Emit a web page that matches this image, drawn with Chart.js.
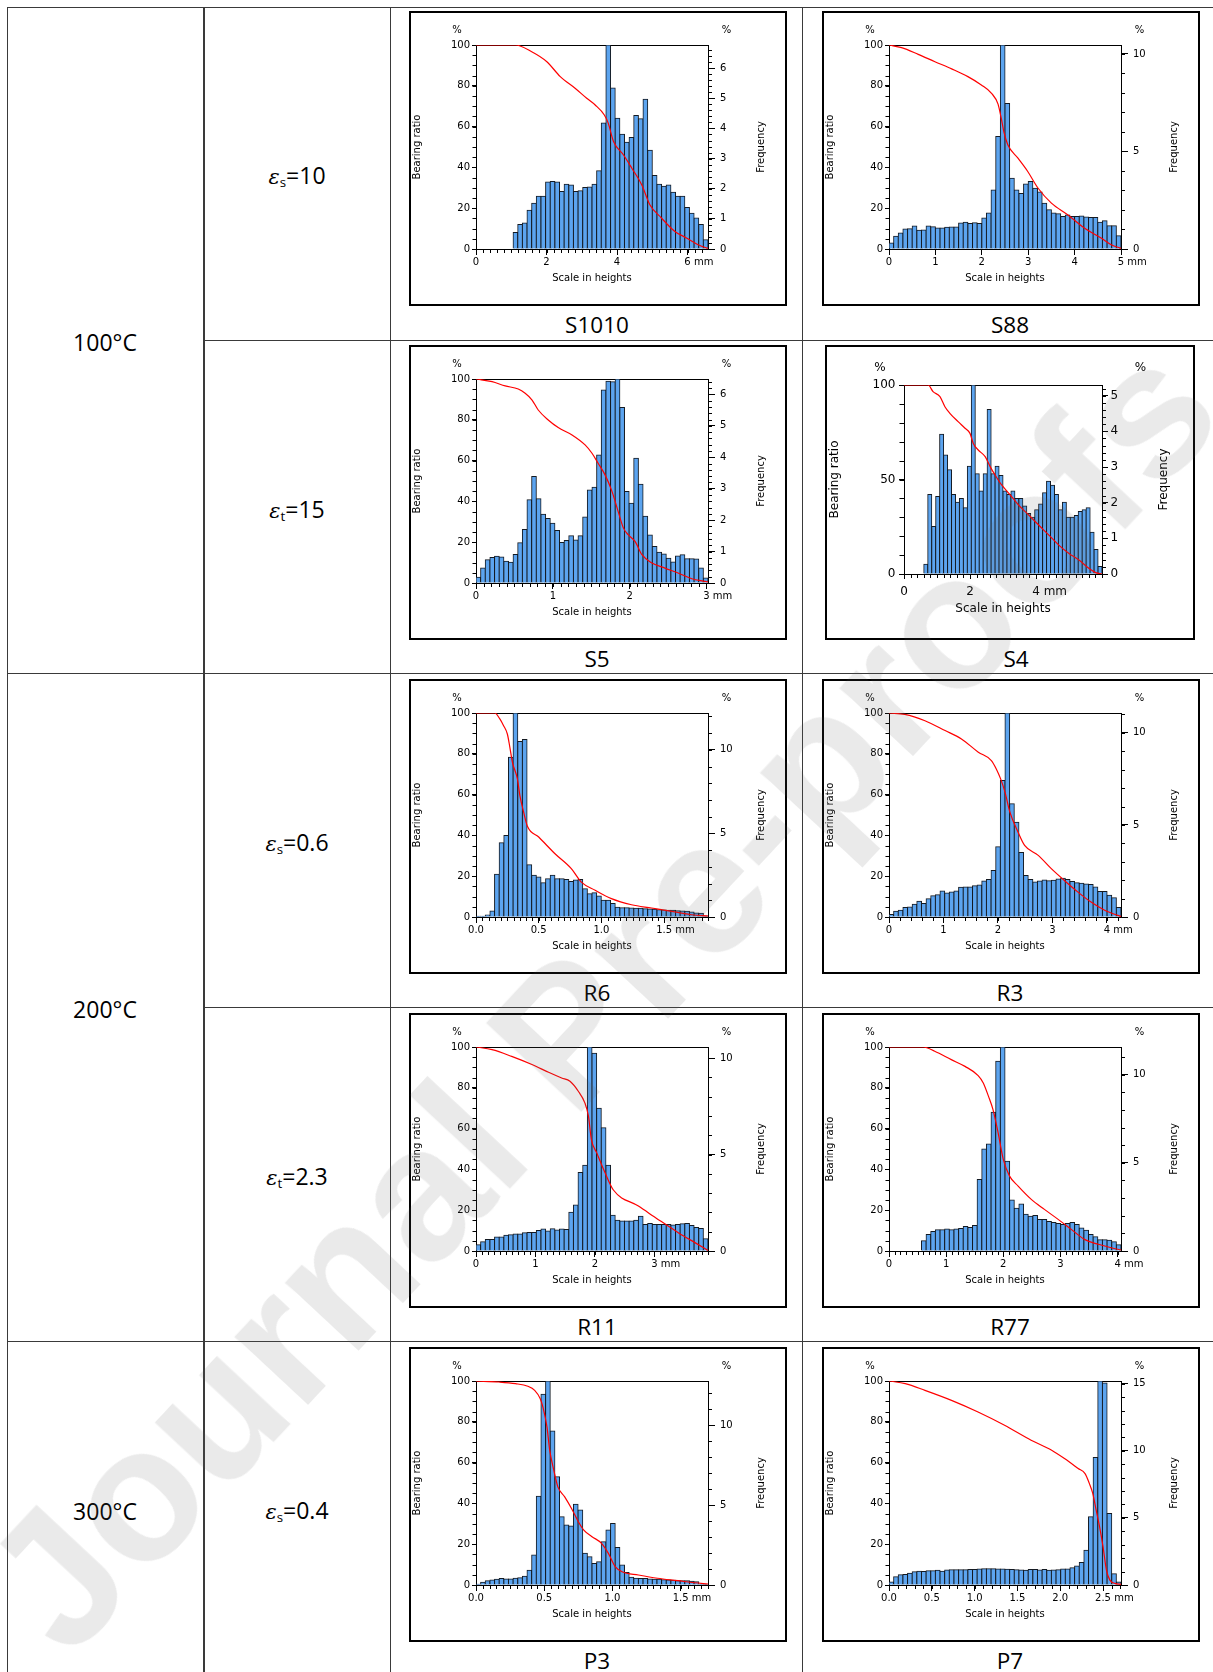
<!DOCTYPE html>
<html>
<head>
<meta charset="utf-8">
<title>Height distribution and bearing ratio</title>
<script src="https://cdn.jsdelivr.net/npm/chart.js@4.4.1/dist/chart.umd.min.js"></script>
<style>
  html, body { margin: 0; padding: 0; background: #fff; }
  body { position: relative; width: 1213px; height: 1672px; overflow: hidden;
         font-family: 'Open Sans', 'Noto Sans', sans-serif; color: #000; }
  .rule { position: absolute; background: #3a3a3a; }
  .cell { position: absolute; transform: translate(-50%, -50%); font-size: 23px;
          white-space: nowrap; line-height: 1; }
  .cell .eps { font-family: 'DejaVu Serif', serif; font-style: italic; font-size: 21px; }
  .cell sub { font-size: 58%; vertical-align: -0.25em; line-height: 0; }
  .panel { position: absolute; box-sizing: border-box; border: 2px solid #000; background: #fff; }
  .panel canvas { position: absolute; left: 0; top: 0; }
  .watermark { position: absolute; left: 600px; top: 995px; z-index: 5;
               transform: translate(-50%, -50%) rotate(-47deg);
               font: bold 190px 'Liberation Sans', Arial, sans-serif; line-height: 1;
               color: rgba(90, 90, 90, 0.13); white-space: nowrap; pointer-events: none; }
</style>
</head>
<body>
<div class="watermark">Journal Pre-proofs</div>
<script>
// ---- data: frequency (%) of the 50 height classes + bearing ratio curve (mm, %) ----
const s1010Freq = [0, 0, 0, 0, 0, 0, 0, 0, 0.55, 0.81, 0.86, 1.29, 1.52, 1.75, 1.75, 2.22, 2.24, 2.22,
  1.91, 2.15, 2.12, 1.91, 1.93, 2.04, 2.06, 2.15, 2.60, 4.18, 6.77, 5.34, 4.34, 3.81, 3.54, 3.70, 4.43, 4.32,
  4.97, 3.28, 2.44, 2.15, 2.08, 2.12, 1.88, 1.75, 1.75, 1.38, 1.19, 1.03, 0.81, 0.31];
const s1010CurveX = [0, 1.11, 1.58, 2.01, 2.39, 2.81, 3.14, 3.38, 3.64, 3.75, 3.90, 4.18, 4.42, 4.70, 4.93,
  5.26, 5.64, 5.97, 6.30, 6.54, 6.58];
const s1010CurveY = [100, 100, 96.7, 91.8, 84.5, 78.8, 73.9, 70.6, 65.7, 61.7, 52.7, 46.2, 39.6, 31.5, 21.7,
  15.2, 8.6, 5.4, 2.1, 0.5, 0.3];
const s1010XTicks = [0, 2, 4, 6];
const s1010FreqTicks = [0, 1, 2, 3, 4, 5, 6];

const s88Freq = [0.31, 0.65, 0.82, 1.02, 1.04, 1.18, 0.96, 0.97, 1.18, 1.14, 1.08, 1.08, 1.11, 1.13, 1.13,
  1.33, 1.37, 1.31, 1.35, 1.31, 1.59, 1.84, 3.02, 5.77, 10.46, 7.46, 3.63, 3.02, 2.85, 3.33, 3.46, 3.12, 2.92,
  2.35, 2.01, 1.84, 1.81, 1.67, 1.74, 1.67, 1.67, 1.69, 1.64, 1.62, 1.62, 1.37, 1.45, 1.19, 1.19, 0.68];
const s88CurveX = [0, 0.27, 0.63, 0.99, 1.35, 1.70, 1.99, 2.21, 2.35, 2.42, 2.48, 2.56, 2.78, 2.99, 3.21,
  3.50, 3.85, 4.21, 4.57, 4.79, 5.0];
const s88CurveY = [100, 98.7, 95.4, 91.8, 88.3, 84.5, 80.4, 76.3, 71.0, 64.0, 57.0, 51.1, 44.5, 38.0, 29.9,
  22.5, 16.8, 10.3, 5.4, 2.1, 0.3];
const s88XTicks = [0, 1, 2, 3, 4, 5];
const s88FreqTicks = [0, 5, 10];

const s5Freq = [0.18, 0.48, 0.74, 0.81, 0.85, 0.83, 0.69, 0.66, 0.91, 1.28, 1.70, 2.65, 3.39, 2.68, 2.19,
  2.05, 1.90, 1.67, 1.29, 1.35, 1.50, 1.37, 1.50, 2.10, 2.96, 3.05, 4.07, 6.14, 6.42, 6.40, 6.49, 5.58, 2.91,
  2.54, 3.97, 3.14, 2.12, 1.53, 1.16, 0.98, 0.92, 0.79, 0.67, 0.86, 0.90, 0.77, 0.77, 0.76, 0.48, 0.16];
const s5CurveX = [0, 0.21, 0.38, 0.55, 0.64, 0.73, 0.81, 0.94, 1.07, 1.25, 1.42, 1.51, 1.59, 1.68, 1.77,
  1.85, 1.92, 1.98, 2.07, 2.16, 2.29, 2.46, 2.63, 2.81, 2.98, 3.02];
const s5CurveY = [100, 98.7, 96.6, 95.1, 93.0, 89.7, 84.8, 79.9, 76.2, 72.6, 67.7, 63.6, 58.7, 53.0, 44.9,
  35.1, 26.9, 23.7, 20.4, 13.9, 9.8, 7.3, 4.9, 2.1, 0.8, 0.5];
const s5XTicks = [0, 1, 2, 3];
const s5FreqTicks = [0, 1, 2, 3, 4, 5, 6];

const s4Freq = [0, 0, 0, 0, 0, 0.27, 2.23, 1.33, 2.17, 3.92, 3.34, 2.92, 2.23, 2.01, 2.12, 1.86, 3.02, 5.30,
  2.81, 2.33, 2.81, 4.61, 2.81, 3.02, 2.76, 2.33, 2.23, 2.33, 2.12, 2.12, 1.91, 1.70, 1.59, 1.80, 1.96, 2.28,
  2.60, 2.49, 2.23, 1.80, 2.01, 1.59, 1.59, 1.64, 1.75, 1.80, 1.86, 1.17, 0.69, 0.21];
const s4CurveX = [0, 0.73, 0.88, 1.09, 1.24, 1.39, 1.64, 1.85, 2.0, 2.10, 2.25, 2.46, 2.61, 2.76, 2.96,
  3.22, 3.47, 3.78, 4.08, 4.39, 4.69, 5.0, 5.30, 5.60, 5.81, 6.0];
const s4CurveY = [100, 100, 96.5, 93.8, 88.5, 85.0, 80.6, 77.1, 74.4, 69.1, 65.6, 62.1, 56.8, 52.4, 47.1,
  41.8, 36.5, 31.2, 25.9, 20.6, 15.3, 10.9, 7.4, 3.0, 0.7, 0];
const s4XTicks = [0, 2, 4];
const s4FreqTicks = [0, 1, 2, 3, 4, 5];

const r6Freq = [0.04, 0.04, 0.12, 0.36, 2.55, 4.44, 4.88, 9.56, 12.2, 10.50, 10.62, 3.13, 2.49, 2.39, 2.05,
  2.29, 2.49, 2.29, 2.29, 2.25, 2.13, 2.21, 2.25, 1.69, 1.39, 1.45, 1.25, 1.00, 1.00, 0.80, 0.58, 0.56, 0.56,
  0.54, 0.52, 0.52, 0.50, 0.48, 0.46, 0.44, 0.42, 0.40, 0.40, 0.38, 0.36, 0.34, 0.30, 0.24, 0.22, 0.06];
const r6CurveX = [0, 0.15, 0.19, 0.22, 0.25, 0.27, 0.29, 0.33, 0.35, 0.38, 0.41, 0.50, 0.63, 0.76, 0.84,
  0.95, 1.08, 1.24, 1.40, 1.56, 1.72, 1.85];
const r6CurveY = [100, 100, 97.1, 93.8, 89.7, 83.2, 75.9, 67.7, 59.5, 51.4, 44.5, 39.2, 31.0, 23.7, 17.1,
  13.1, 9.0, 6.0, 4.4, 2.8, 1.1, 0.5];
const r6XTicks = [0, 0.5, 1.0, 1.5];
const r6FreqTicks = [0, 5, 10];

const r3Freq = [0.14, 0.31, 0.36, 0.52, 0.54, 0.69, 0.85, 0.74, 0.99, 1.16, 1.21, 1.41, 1.30, 1.36, 1.41,
  1.61, 1.63, 1.63, 1.70, 1.74, 1.95, 2.03, 2.53, 3.82, 7.41, 11.08, 6.15, 5.14, 3.51, 2.26, 2.04, 1.90, 1.95,
  2.01, 1.97, 1.99, 2.06, 2.10, 2.04, 1.93, 1.86, 1.83, 1.79, 1.77, 1.63, 1.39, 1.39, 1.18, 1.05, 0.51];
const r3CurveX = [0, 0.29, 0.66, 1.03, 1.33, 1.64, 1.88, 1.97, 2.05, 2.13, 2.22, 2.37, 2.49, 2.74, 2.98,
  3.22, 3.47, 3.71, 3.96, 4.20, 4.26];
const r3CurveY = [100, 99.3, 96.2, 91.4, 87.3, 80.8, 76.7, 72.6, 67.7, 61.2, 51.4, 41.6, 35.1, 30.2, 23.7,
  17.9, 12.2, 7.3, 3.3, 0.8, 0.3];
const r3XTicks = [0, 1, 2, 3, 4];
const r3FreqTicks = [0, 5, 10];

const r11Freq = [0.32, 0.48, 0.60, 0.60, 0.72, 0.72, 0.81, 0.84, 0.88, 0.88, 0.95, 0.96, 0.96, 1.06, 1.14,
  1.04, 1.15, 1.09, 1.14, 1.11, 2.01, 2.38, 4.07, 4.44, 10.57, 10.25, 7.40, 6.39, 4.44, 1.85, 1.59, 1.55, 1.55,
  1.55, 1.59, 1.80, 1.37, 1.42, 1.37, 1.37, 1.37, 1.37, 1.35, 1.37, 1.41, 1.43, 1.32, 1.22, 1.16, 0.63];
const r11CurveX = [0, 0.27, 0.60, 0.94, 1.22, 1.44, 1.58, 1.72, 1.83, 1.89, 1.94, 2.03, 2.17, 2.31, 2.73,
  3.06, 3.40, 3.68, 3.90];
const r11CurveY = [100, 98.7, 95.4, 91.4, 87.6, 84.8, 83.2, 78.3, 72.6, 66.1, 54.6, 48.1, 38.3, 29.9, 22.0,
  15.5, 9.0, 4.1, 0.3];
const r11XTicks = [0, 1, 2, 3];
const r11FreqTicks = [0, 5, 10];

const r77Freq = [0, 0, 0, 0, 0, 0, 0, 0.58, 0.93, 1.10, 1.21, 1.21, 1.25, 1.21, 1.25, 1.27, 1.39, 1.33, 1.45,
  4.05, 5.79, 6.07, 7.87, 10.76, 11.57, 5.09, 2.89, 2.43, 2.66, 2.08, 1.97, 2.02, 1.79, 1.79, 1.68, 1.62, 1.56,
  1.50, 1.56, 1.62, 1.50, 1.31, 1.18, 0.93, 0.81, 0.64, 0.64, 0.61, 0.52, 0.35];
const r77CurveX = [0, 0.60, 0.80, 1.09, 1.33, 1.56, 1.65, 1.74, 1.82, 1.91, 2.0, 2.11, 2.26, 2.49, 2.72,
  2.96, 3.19, 3.42, 3.66, 3.89, 4.06];
const r77CurveY = [100, 100, 97.9, 93.8, 90.5, 86.0, 82.4, 75.9, 69.3, 57.9, 44.9, 36.7, 31.8, 25.3, 20.4,
  15.5, 10.6, 5.7, 3.3, 1.6, 0.5];
const r77XTicks = [0, 1, 2, 3, 4];
const r77FreqTicks = [0, 5, 10];

const p3Freq = [0.05, 0.17, 0.26, 0.31, 0.36, 0.40, 0.37, 0.37, 0.43, 0.46, 0.54, 0.93, 1.88, 5.56, 11.94,
  12.77, 9.64, 6.77, 4.27, 3.75, 3.70, 5.06, 4.69, 1.98, 1.77, 1.35, 1.46, 2.71, 3.44, 3.85, 2.35, 1.25, 0.79,
  0.48, 0.43, 0.40, 0.40, 0.37, 0.36, 0.36, 0.33, 0.31, 0.29, 0.27, 0.26, 0.27, 0.23, 0.21, 0.05, 0.02];
const p3CurveX = [0, 0.17, 0.29, 0.38, 0.43, 0.47, 0.49, 0.52, 0.54, 0.57, 0.60, 0.65, 0.70, 0.75, 0.79,
  0.85, 0.92, 0.97, 1.02, 1.07, 1.19, 1.33, 1.48, 1.60, 1.70];
const p3CurveY = [100, 99.5, 98.7, 97.4, 95.4, 91.4, 87.3, 77.5, 66.1, 56.3, 48.1, 43.2, 37.5, 31.0, 26.9,
  23.7, 20.4, 15.5, 9.0, 6.5, 4.9, 3.3, 2.1, 1.1, 0.5];
const p3XTicks = [0, 0.5, 1.0, 1.5];
const p3FreqTicks = [0, 5, 10];

const p7Freq = [0.23, 0.62, 0.76, 0.79, 0.88, 0.99, 1.03, 1.00, 1.06, 1.06, 1.09, 1.03, 1.11, 1.14, 1.14,
  1.14, 1.14, 1.16, 1.16, 1.19, 1.22, 1.22, 1.22, 1.20, 1.20, 1.17, 1.16, 1.14, 1.12, 1.09, 1.16, 1.16, 1.12,
  1.16, 1.09, 1.11, 1.14, 1.20, 1.19, 1.29, 1.41, 1.67, 2.58, 5.08, 9.50, 15.2, 15.05, 5.32, 0.84, 0.23];
const p7CurveX = [0, 0.19, 0.42, 0.73, 1.04, 1.35, 1.66, 1.90, 2.05, 2.21, 2.29, 2.34, 2.38, 2.42, 2.46,
  2.50, 2.54, 2.58, 2.64, 2.71];
const p7CurveY = [100, 98.7, 95.4, 90.5, 84.8, 78.3, 71.0, 66.1, 62.0, 57.1, 54.6, 49.8, 44.9, 36.7, 28.5,
  18.8, 7.3, 2.4, 0.8, 0.3];
const p7XTicks = [0, 0.5, 1.0, 1.5, 2.0, 2.5];
const p7FreqTicks = [0, 5, 10, 15];

const ratioTicks = [0, 20, 40, 60, 80, 100];
const ratioTicksCoarse = [0, 50, 100];

// ---- table text ----
const tempLabels = ['100°C', '200°C', '300°C'];
const strainLabels = [['s', '10'], ['t', '15'], ['s', '0.6'], ['t', '2.3'], ['s', '0.4']];

// ---- panel list ----
const panels = [
  { name: 'S1010', col: 0, row: 0, xMax: 6.58, freqMax: 6.77, freq: s1010Freq, cx: s1010CurveX, cy: s1010CurveY,
    xTicks: s1010XTicks, xMinor: 0.2, xDec: 0, freqTicks: s1010FreqTicks, freqMinor: 0.2, rTicks: ratioTicks, rMinor: 5 },
  { name: 'S88', col: 1, row: 0, xMax: 5.0, freqMax: 10.46, freq: s88Freq, cx: s88CurveX, cy: s88CurveY,
    xTicks: s88XTicks, xMinor: 0, xDec: 0, freqTicks: s88FreqTicks, freqMinor: 1, rTicks: ratioTicks, rMinor: 5 },
  { name: 'S5', col: 0, row: 1, xMax: 3.02, freqMax: 6.49, freq: s5Freq, cx: s5CurveX, cy: s5CurveY,
    xTicks: s5XTicks, xMinor: 0.1, xDec: 0, freqTicks: s5FreqTicks, freqMinor: 0.2, rTicks: ratioTicks, rMinor: 5 },
  { name: 'S4', col: 1, row: 1, xMax: 6.0, freqMax: 5.30, freq: s4Freq, cx: s4CurveX, cy: s4CurveY, big: true,
    xTicks: s4XTicks, xMinor: 0.2, xDec: 0, freqTicks: s4FreqTicks, freqMinor: 0.2, rTicks: ratioTicksCoarse, rMinor: 10 },
  { name: 'R6', col: 0, row: 2, xMax: 1.85, freqMax: 12.2, freq: r6Freq, cx: r6CurveX, cy: r6CurveY,
    xTicks: r6XTicks, xMinor: 0.05, xDec: 1, freqTicks: r6FreqTicks, freqMinor: 1, rTicks: ratioTicks, rMinor: 5 },
  { name: 'R3', col: 1, row: 2, xMax: 4.26, freqMax: 11.08, freq: r3Freq, cx: r3CurveX, cy: r3CurveY,
    xTicks: r3XTicks, xMinor: 0.2, xDec: 0, freqTicks: r3FreqTicks, freqMinor: 1, rTicks: ratioTicks, rMinor: 5 },
  { name: 'R11', col: 0, row: 3, xMax: 3.9, freqMax: 10.57, freq: r11Freq, cx: r11CurveX, cy: r11CurveY,
    xTicks: r11XTicks, xMinor: 0.1, xDec: 0, freqTicks: r11FreqTicks, freqMinor: 1, rTicks: ratioTicks, rMinor: 5 },
  { name: 'R77', col: 1, row: 3, xMax: 4.06, freqMax: 11.57, freq: r77Freq, cx: r77CurveX, cy: r77CurveY,
    xTicks: r77XTicks, xMinor: 0.1, xDec: 0, freqTicks: r77FreqTicks, freqMinor: 1, rTicks: ratioTicks, rMinor: 5 },
  { name: 'P3', col: 0, row: 4, xMax: 1.70, freqMax: 12.77, freq: p3Freq, cx: p3CurveX, cy: p3CurveY,
    xTicks: p3XTicks, xMinor: 0.05, xDec: 1, freqTicks: p3FreqTicks, freqMinor: 1, rTicks: ratioTicks, rMinor: 5 },
  { name: 'P7', col: 1, row: 4, xMax: 2.71, freqMax: 15.2, freq: p7Freq, cx: p7CurveX, cy: p7CurveY,
    xTicks: p7XTicks, xMinor: 0.1, xDec: 1, freqTicks: p7FreqTicks, freqMinor: 1, rTicks: ratioTicks, rMinor: 5 }
];

// ---- look ----
const BAR_FILL = '#5ca4ef';
const BAR_EDGE = '#141a22';
const CURVE_RED = '#ff0000';
const FONT = "'DejaVu Sans', Verdana, sans-serif";

const STD = { font: 10, m: { l: 65, t: 32, r: 77, b: 55 },
  rTick: 4, rPad: 2, fTick: 7, fPad: 5, xTick: 6, xPad: 1.5, minor: 3.5, rMinorLen: 4,
  pctDy: -12, pctLx: -19, pctRx: 18.5, rTitleDx: -56, fTitleDx: 56, xTitleDy: 31.5 };
const BIG = { font: 12, m: { l: 77, t: 38, r: 91, b: 64 },
  rTick: 5, rPad: 3.5, fTick: 6, fPad: 2.5, xTick: 5, xPad: 6, minor: 3.5, rMinorLen: 5,
  pctDy: -14.4, pctLx: -24, pctRx: 38.4, rTitleDx: -65.6, fTitleDx: 65.4, xTitleDy: 38 };

const COL_X = [409, 822];
const ROW_Y = [11, 345, 679, 1013, 1347];
const BOX_W = 378, BOX_H = 295;
const BINS = 50;

Chart.defaults.font.family = FONT;
Chart.defaults.color = '#000';

// ---- table rules ----
function rule(x, y, w, h) {
  const d = document.createElement('div');
  d.className = 'rule';
  Object.assign(d.style, { left: x + 'px', top: y + 'px', width: w + 'px', height: h + 'px' });
  document.body.appendChild(d);
}
rule(7, 7, 1206, 1);
rule(203, 340, 1010, 1);
rule(7, 673, 1206, 1);
rule(203, 1007, 1010, 1);
rule(7, 1341, 1206, 1);
[7, 203, 390, 802].forEach(x => rule(x, 7, x === 203 ? 1.5 : 1, 1700));

function cell(html, x, y, cls) {
  const d = document.createElement('div');
  d.className = 'cell' + (cls ? ' ' + cls : '');
  d.innerHTML = html;
  Object.assign(d.style, { left: x + 'px', top: y + 'px' });
  document.body.appendChild(d);
}
cell(tempLabels[0], 105, 342);
cell(tempLabels[1], 105, 1009);
cell(tempLabels[2], 105, 1511);
[176, 510, 843, 1177, 1511].forEach((y, i) => {
  const [sub, val] = strainLabels[i];
  cell(`<span class="eps">ε</span><sub>${sub}</sub>=${val}`, 297, y);
});

// ---- one histogram + bearing curve panel ----
function drawPanel(p) {
  const st = p.big ? BIG : STD;
  const bx = p.big ? 825 : COL_X[p.col];
  const by = ROW_Y[p.row];
  const bw = p.big ? 370 : BOX_W;
  const W = bw - 4, H = BOX_H - 4;

  const box = document.createElement('div');
  box.className = 'panel';
  Object.assign(box.style, { left: bx + 'px', top: by + 'px', width: bw + 'px', height: BOX_H + 'px' });
  const cv = document.createElement('canvas');
  cv.width = W; cv.height = H;
  cv.style.width = W + 'px'; cv.style.height = H + 'px';
  box.appendChild(cv);
  document.body.appendChild(box);

  const cap = document.createElement('div');
  cap.className = 'cell';
  cap.textContent = p.name;
  Object.assign(cap.style, { left: (p.big ? 1016 : bx + bw / 2 - 1) + 'px', top: (by + 314) + 'px', fontSize: '22.5px' });
  document.body.appendChild(cap);

  const binW = p.xMax / BINS;
  const bars = p.freq.map((f, i) => ({ x: (i + 0.5) * binW, y: f }));
  const curve = p.cx.map((x, i) => ({ x, y: p.cy[i] }));
  const fmtX = v => v.toFixed(p.xDec);
  const font = { family: FONT, size: st.font };

  const deco = {
    id: 'deco',
    beforeDatasetsDraw(chart) {
      const { ctx, chartArea: a } = chart;
      const xs = chart.scales.x, yl = chart.scales.y, yr = chart.scales.y2;
      ctx.save();
      ctx.strokeStyle = '#000';
      ctx.lineWidth = 1;
      const L = Math.round(a.left) + 0.5, R = Math.round(a.right) + 0.5;
      const T = Math.round(a.top) + 0.5, B = Math.round(a.bottom) + 0.5;
      ctx.strokeRect(L, T, R - L, B - T);

      // minor ticks, never past the end of the axis
      ctx.beginPath();
      const minors = (scale, step, fn) => {
        if (!step) return;
        const n = Math.floor((scale.max - scale.min) / step + 1e-6);
        for (let i = 0; i <= n; i++) fn(Math.round(scale.getPixelForValue(scale.min + i * step)) + 0.5);
      };
      minors(xs, p.xMinor, px => { ctx.moveTo(px, B); ctx.lineTo(px, B + st.minor); });
      minors(yl, p.rMinor, py => { ctx.moveTo(L, py); ctx.lineTo(L - st.rMinorLen, py); });
      minors(yr, p.freqMinor, py => { ctx.moveTo(R, py); ctx.lineTo(R + st.minor, py); });
      ctx.stroke();

      // unit after the last labelled height
      ctx.fillStyle = '#000';
      ctx.font = `${st.font}px ${FONT}`;
      const lastV = p.xTicks[p.xTicks.length - 1];
      const lw = ctx.measureText(fmtX(lastV)).width;
      ctx.textAlign = 'left';
      ctx.textBaseline = 'middle';
      ctx.fillText(' mm', xs.getPixelForValue(lastV) + lw / 2, xs.top + st.xTick + st.xPad + st.font * 0.6);

      // axis captions
      ctx.textAlign = 'center';
      ctx.textBaseline = 'alphabetic';
      ctx.fillText('%', a.left + st.pctLx, a.top + st.pctDy);
      ctx.fillText('%', a.right + st.pctRx, a.top + st.pctDy);
      ctx.fillText('Scale in heights', (a.left + a.right) / 2, a.bottom + st.xTitleDy);
      const midY = (a.top + a.bottom) / 2;
      [['Bearing ratio', a.left + st.rTitleDx], ['Frequency', a.right + st.fTitleDx]].forEach(([t, x]) => {
        ctx.save();
        ctx.translate(x, midY);
        ctx.rotate(-Math.PI / 2);
        ctx.fillText(t, 0, 0);
        ctx.restore();
      });
      ctx.restore();
    }
  };

  const tickGrid = len => ({ display: true, drawOnChartArea: false, drawTicks: true, tickLength: len,
    tickColor: '#000', tickWidth: 1, offset: false });

  new Chart(cv, {
    type: 'bar',
    data: {
      datasets: [
        { type: 'line', data: curve, xAxisID: 'x', yAxisID: 'y', borderColor: CURVE_RED, borderWidth: 1.2,
          pointRadius: 0, cubicInterpolationMode: 'monotone', fill: false, order: 0 },
        { type: 'bar', data: bars, xAxisID: 'x', yAxisID: 'y2', backgroundColor: BAR_FILL, borderColor: BAR_EDGE,
          borderWidth: 1, inflateAmount: 0.5, barPercentage: 1, categoryPercentage: 1, order: 1 }
      ]
    },
    options: {
      responsive: false, animation: false, events: [],
      layout: { padding: { top: st.m.t, left: 0, right: 0, bottom: 0 } },
      plugins: { legend: { display: false }, tooltip: { enabled: false } },
      scales: {
        x: { type: 'linear', position: 'bottom', min: 0, max: p.xMax, offset: false,
          afterBuildTicks: s => { s.ticks = p.xTicks.map(v => ({ value: v })); },
          afterFit: s => { s.height = st.m.b; },
          grid: tickGrid(st.xTick), border: { display: true, color: '#000' },
          ticks: { font, color: '#000', padding: st.xPad, maxRotation: 0, autoSkip: false, callback: v => fmtX(v) } },
        y: { type: 'linear', position: 'left', min: 0, max: 100,
          afterBuildTicks: s => { s.ticks = p.rTicks.map(v => ({ value: v })); },
          afterFit: s => { s.width = st.m.l; },
          grid: tickGrid(st.rTick), border: { display: true, color: '#000' },
          ticks: { font, color: '#000', padding: st.rPad, autoSkip: false, callback: v => String(v) } },
        y2: { type: 'linear', position: 'right', min: 0, max: p.freqMax,
          afterBuildTicks: s => { s.ticks = p.freqTicks.map(v => ({ value: v })); },
          afterFit: s => { s.width = st.m.r; },
          grid: tickGrid(st.fTick), border: { display: true, color: '#000' },
          ticks: { font, color: '#000', padding: st.fPad, autoSkip: false, callback: v => String(v) } }
      }
    },
    plugins: [deco]
  });
}

panels.forEach(drawPanel);
</script>
</body>
</html>
